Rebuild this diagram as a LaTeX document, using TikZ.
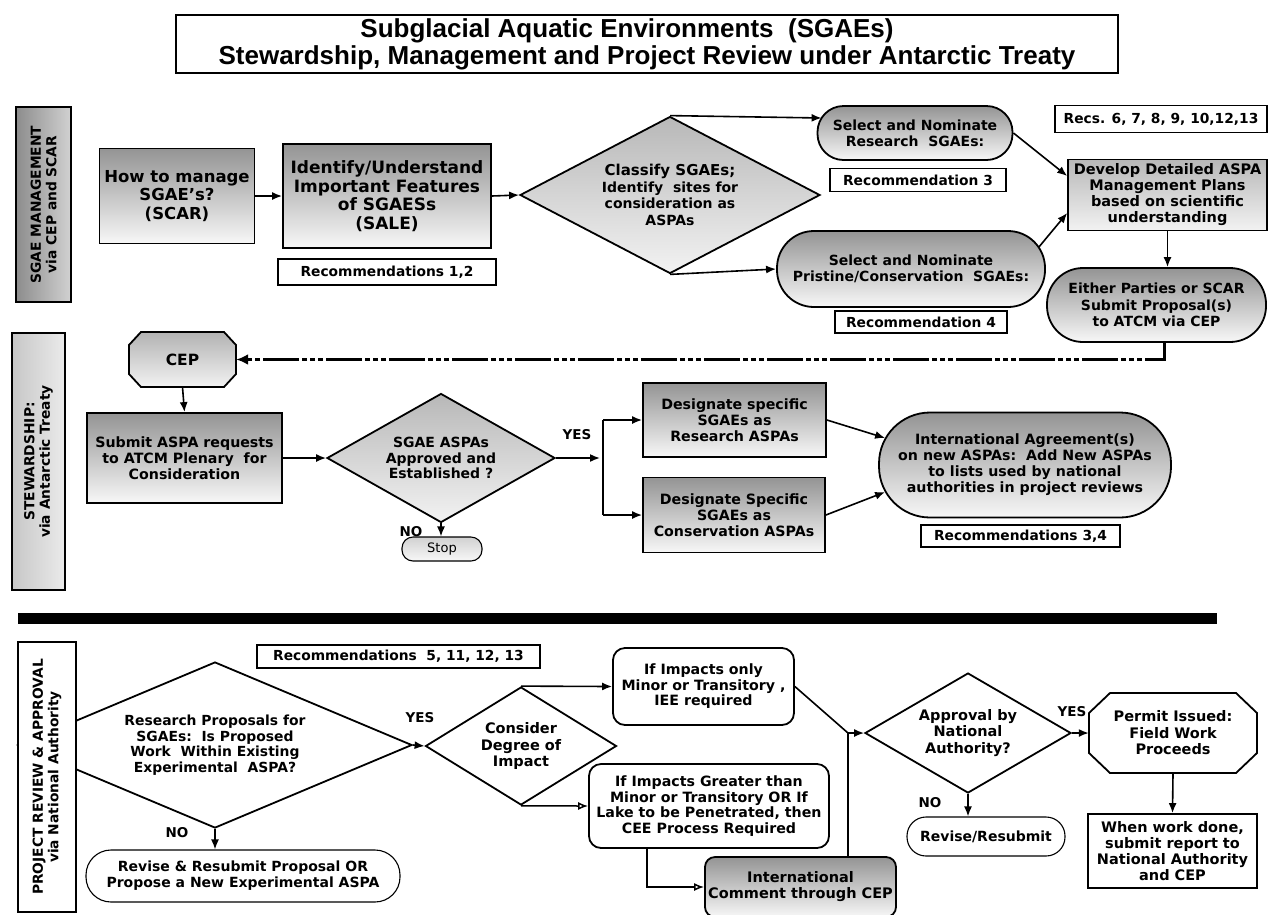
\documentclass[tikz,border=0pt]{standalone}
\usepackage{fontspec}
\setmainfont{DejaVu Sans}
\newfontfamily\titlefont{Liberation Sans}
\usetikzlibrary{arrows.meta,shapes.geometric,calc}
\newcommand{\fs}[2]{\fontsize{#1}{#2}\selectfont\bfseries}
\begin{document}
\begin{tikzpicture}[x=1pt,y=1pt,
 bx/.style={draw, line width=1.8pt, align=center, inner sep=0pt},
 gr/.style={top color=black!42, bottom color=black!3},
 lgr/.style={top color=black!28, bottom color=black!5},
 rec/.style={draw, line width=1.5pt, fill=white, inner sep=0pt, font=\fs{13.8}{15}},
 arr/.style={line width=1.6pt, -{Latex[length=10pt,width=8pt]}},
 oarr/.style={line width=1.5pt, -{Latex[open,length=10pt,width=8pt]}},
 ln/.style={line width=1.6pt},
 dia/.style={diamond, draw, line width=1.8pt, inner sep=0pt, align=center},
 lab/.style={font=\fs{13.5}{15}},
 cepline/.style={line width=3.8pt, dash pattern=on 36pt off 3pt on 5pt off 3pt on 5pt off 3pt on 5pt off 3pt, -{Latex[length=12pt,width=11pt]}},
]
\useasboundingbox (0,0) rectangle (1268,-914);
\fill[white] (0,0) rectangle (1268,-914);

% ---------- title ----------
\node[draw, line width=1.3pt, minimum width=942pt, minimum height=58pt, inner sep=0pt, align=center,
  font=\titlefont\fontsize{26}{27}\selectfont\bfseries] (title) at (647,-44)
  {Subglacial Aquatic Environments~~(SGAEs)\hspace*{40pt}\\Stewardship, Management and Project Review under Antarctic Treaty};

% ---------- section labels ----------
\node[draw, line width=1.8pt, minimum width=55pt, minimum height=195pt, left color=black!45, right color=black!18] (lab1) at (43.5,-204.5) {};
\node[rotate=90, align=center, font=\fs{13.8}{15.5}] (lab1t) at (lab1) {SGAE MANAGEMENT\\via CEP and SCAR};
\node[draw, line width=1.8pt, minimum width=53pt, minimum height=257pt, left color=black!22, right color=black!8] (lab2) at (38.5,-461.5) {};
\node[rotate=90, align=center, font=\fs{13.8}{15.5}] (lab2t) at (lab2) {STEWARDSHIP:\\via Antarctic Treaty};

% ---------- row 1 ----------
\node[bx, gr, minimum width=155pt, minimum height=95pt, font=\fs{16.5}{18.5}] (how) at (177,-196) {How to manage\\SGAE's?\\(SCAR)};
\node[bx, gr, minimum width=208pt, minimum height=104pt, font=\fs{17}{18.5}] (ident) at (387,-196) {Identify/Understand\\Important Features\\of SGAESs\\(SALE)};
\node[rec, minimum width=218pt, minimum height=26pt] (rec12) at (387,-272) {Recommendations 1,2};
\node[dia, lgr, minimum width=300pt, minimum height=157pt, aspect=1.91, font=\fs{14}{16.5}] (classify) at (670,-195) {{\fontsize{15}{16.5}\selectfont Classify SGAEs;}\\Identify~~sites for\\consideration as\\ASPAs};
\node[bx, gr, rounded corners=26pt, minimum width=195pt, minimum height=54pt, font=\fs{14}{16}] (selres) at (915,-133) {Select and Nominate\\Research~~SGAEs:};
\node[rec, minimum width=176pt, minimum height=23pt] (rec3) at (918,-180) {Recommendation 3};
\node[bx, gr, rounded corners=37pt, minimum width=268pt, minimum height=76pt, font=\fs{14}{16}] (selpri) at (911,-269) {Select and Nominate\\Pristine/Conservation~~SGAEs:};
\node[rec, minimum width=172pt, minimum height=22pt] (rec4) at (921,-322) {Recommendation 4};
\node[rec, minimum width=212pt, minimum height=27pt] (recs6) at (1161,-119) {Recs. 6, 7, 8, 9, 10,12,13};
\node[bx, lgr, line width=1.6pt, minimum width=199pt, minimum height=71pt, font=\fs{14.5}{16}] (develop) at (1167.5,-195) {Develop Detailed ASPA\\Management Plans\\based on scientific\\understanding};
\node[bx, gr, rounded corners=36pt, minimum width=219pt, minimum height=74pt, font=\fs{14}{16.5}] (either) at (1156.5,-305) {Either Parties or SCAR\\Submit Proposal(s)\\to ATCM via CEP};

\draw[arr] (how.east) -- (ident.west);
\draw[arr] (ident.east) -- (classify.west);
\draw[arr] (classify.north) -- ($(selres.west)+(5,15)$);
\draw[arr] (classify.south) -- (selpri.west);
\draw[arr] (selres.east) -- ($(develop.west)+(0,19)$);
\draw[arr] ($(selpri.east)+(-7,22)$) -- ($(develop.west)+(0,-18)$);
\draw[arr] (develop.south) -- (develop.south |- either.north);

% ---------- row 2 ----------
\path[draw, line width=1.8pt, top color=black!30, bottom color=black!5]
  (141,-332) -- (224,-332) -- (236,-345) -- (236,-374) -- (224,-387) -- (141,-387) -- (129,-374) -- (129,-345) -- cycle;
\node[minimum width=107pt, minimum height=55pt, inner sep=0pt, font=\fs{15.5}{17}] (cep) at (182.5,-359.5) {CEP};
\draw[cepline] ($(either.south)+(8,0)$) |- (cep.east);

\node[bx, gr, minimum width=195pt, minimum height=90pt, font=\fs{14.2}{16}] (submit) at (184.5,-458) {Submit ASPA requests\\to ATCM Plenary~~for\\Consideration};
\node[dia, lgr, minimum width=228pt, minimum height=129pt, aspect=1.77, font=\fs{14}{15.5}] (approve) at (441,-458) {SGAE ASPAs\\Approved and\\Established ?};
\node[draw, line width=1.1pt, rounded corners=11pt, top color=black!18, bottom color=black!3, minimum width=80pt, minimum height=24pt, inner sep=0pt, font=\fontsize{13}{14}\selectfont] (stop) at (442,-549) {Stop};
\node[lab] (no1) at (411,-532) {NO};
\node[lab] (yes1) at (577,-435) {YES};
\node[bx, gr, minimum width=183pt, minimum height=74pt, font=\fs{14.2}{16}] (desres) at (734.5,-420) {Designate specific\\SGAEs as\\Research ASPAs};
\node[bx, gr, minimum width=182pt, minimum height=75pt, font=\fs{14.2}{16}] (descon) at (734,-515) {Designate Specific\\SGAEs as\\Conservation ASPAs};
\node[bx, gr, rounded corners=51pt, minimum width=292pt, minimum height=105pt, font=\fs{14.2}{16}] (intl) at (1025,-465) {International Agreement(s)\\on new ASPAs:~~Add New ASPAs\\to lists used by national\\authorities in project reviews};
\node[rec, minimum width=199pt, minimum height=22pt] (rec34) at (1020.5,-536) {Recommendations 3,4};

\coordinate (fk) at (603,-458);
\coordinate (fkt) at (603,-420);
\coordinate (fkb) at (603,-515);
\draw[arr] (cep.south) -- (submit.north);
\draw[arr] (submit.east) -- (approve.west);
\draw[arr] (approve.south) -- (approve.south |- stop.north);
\draw[arr] (approve.east) -- ($(fk)+(-3,0)$);
\draw[ln] (fkt) -- (fkb);
\draw[arr] (fkt) -- (desres.west);
\draw[arr] (fkb) -- (descon.west);
\draw[arr] (desres.east) -- ($(intl.west)+(7,27)$);
\draw[arr] (descon.east) -- ($(intl.west)+(7,-27)$);

% ---------- divider ----------
\fill[black] (18,-613) rectangle (1217,-624);

% ---------- row 3 ----------
\node[dia, fill=white, minimum width=394pt, minimum height=166pt, aspect=2.37, font=\fs{13.9}{15.5}] (propdia) at (215,-745) {Research Proposals for\\SGAEs:~~Is Proposed\\Work~~Within Existing\\Experimental~~ASPA?};
\node[draw, line width=1.8pt, fill=white, minimum width=58pt, minimum height=270pt] (lab3) at (47,-777) {};
\node[rotate=90, align=center, font=\fs{13.8}{15.5}] (lab3t) at (lab3) {PROJECT REVIEW \& APPROVAL\\via National Authority};
\node[rec, minimum width=283pt, minimum height=23pt] (rec5) at (398.5,-656.5) {Recommendations~~5, 11, 12, 13};
\node[lab] (yes2) at (420,-718) {YES};
\node[lab] (no2) at (177,-833) {NO};
\node[draw, line width=1.1pt, fill=white, rounded corners=25pt, minimum width=314pt, minimum height=52pt, inner sep=0pt, align=center, font=\fs{14}{16}] (revise1) at (243,-876) {Revise \& Resubmit Proposal OR\\Propose a New Experimental ASPA};
\node[dia, fill=white, minimum width=191pt, minimum height=118pt, aspect=1.62, font=\fs{14.5}{16.5}] (consider) at (521,-746) {Consider\\Degree of\\Impact};
\node[bx, fill=white, rounded corners=12pt, minimum width=181pt, minimum height=77pt, font=\fs{14.2}{15.5}] (iee) at (703.5,-686.5) {If Impacts only\\Minor or Transitory ,\\IEE required};
\node[bx, fill=white, rounded corners=12pt, minimum width=240pt, minimum height=84pt, font=\fs{14.2}{15.5}] (cee) at (709,-806) {If Impacts Greater than\\Minor or Transitory OR If\\Lake to be Penetrated, then\\CEE Process Required};
\node[bx, gr, rounded corners=10pt, minimum width=191pt, minimum height=60pt, font=\fs{14.5}{16}] (intlc) at (800.5,-887) {International\\Comment through CEP};
\node[dia, fill=white, minimum width=206pt, minimum height=120pt, aspect=1.72, font=\fs{14.5}{16.5}] (approval) at (968,-733) {Approval by\\National\\Authority?};
\node[lab] (yes3) at (1072,-712) {YES};
\node[lab] (no3) at (930,-803) {NO};
\path[draw, line width=1.8pt, fill=white]
  (1110,-693) -- (1236,-693) -- (1257,-713) -- (1257,-753) -- (1236,-773) -- (1110,-773) -- (1089,-753) -- (1089,-713) -- cycle;
\node[minimum width=168pt, minimum height=80pt, inner sep=0pt, align=center, font=\fs{14.5}{16.5}] (permit) at (1173,-733) {Permit Issued:\\Field Work\\Proceeds};
\node[draw, line width=1.1pt, fill=white, rounded corners=19pt, minimum width=158pt, minimum height=39pt, inner sep=0pt, font=\fs{14}{16}] (revise2) at (986,-836.5) {Revise/Resubmit};
\node[bx, fill=white, minimum width=169pt, minimum height=74pt, font=\fs{14.5}{16}] (report) at (1172.5,-851) {When work done,\\submit report to\\National Authority\\and CEP};

\coordinate (j) at (848,-733);
\draw[arr] (propdia.south) -- (propdia.south |- revise1.north);
\draw[arr] (propdia.east) -- (consider.west);
\draw[arr] (consider.north) -- (iee.west);
\draw[oarr] (consider.south) -- (cee.west);
\draw[oarr] ($(cee.south west)+(59,0)$) |- (intlc.west);
\draw[ln] (iee.east) -- (j);
\draw[ln] (intlc.north -| j) -- (j);
\draw[arr] (j) -- (approval.west);
\draw[arr] (approval.east) -- (permit.west);
\draw[arr] (approval.south) -- (approval.south |- revise2.north);
\draw[arr] (permit.south) -- (report.north);
\end{tikzpicture}
\end{document}
